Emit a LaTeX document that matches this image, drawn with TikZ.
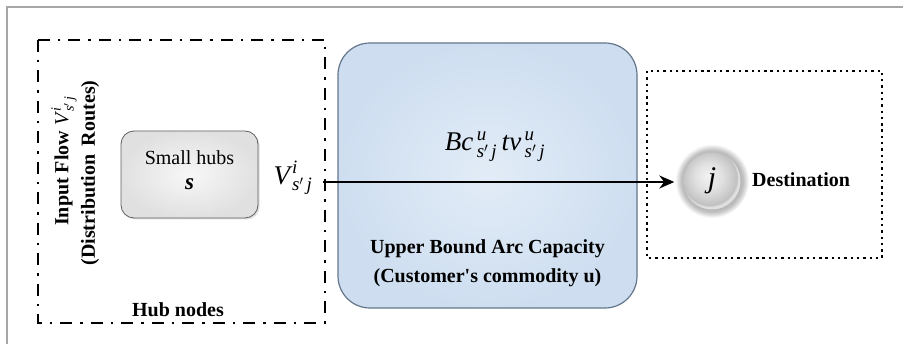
\RequirePackage{fix-cm}
\documentclass[tikz,border=0pt]{standalone}
\usepackage{amsmath}
\usepackage{fontspec}
\setmainfont{Liberation Serif}
\usetikzlibrary{arrows.meta,shadows}
% italic serif letters for the flow and capacity symbols
\newcommand{\vi}[1]{\textit{\mdseries #1}}
% an italic base letter with some room before its scripts
\newcommand{\vb}[1]{{\vi{#1}\kern2pt}}
\newcommand{\vw}[1]{{\vi{#1}\kern3.5pt}}
% halo around the destination node and the node's own body
\pgfdeclareradialshading{halo}{\pgfpoint{0bp}{0bp}}{%
  color(0bp)=(gray!62); color(18.5bp)=(gray!60); color(21bp)=(gray!48); color(25bp)=(white); color(50bp)=(white)}
\pgfdeclareradialshading{sphere}{\pgfpoint{-4bp}{5bp}}{%
  color(0bp)=(gray!10); color(12bp)=(gray!24); color(21bp)=(gray!42); color(24bp)=(gray!50); color(25bp)=(gray!25); color(50bp)=(gray!25)}
\begin{document}
\begin{tikzpicture}[x=1pt,y=-1pt,
  txt/.style={font=\fontsize{20}{24}\selectfont, inner sep=0pt},
  btxt/.style={font=\fontsize{20}{24}\selectfont\bfseries, inner sep=0pt},
  mtxt/.style={font=\fontsize{27}{30}\selectfont, inner sep=0pt},
  hubframe/.style={draw=black, line width=2.4pt, dash pattern=on 12pt off 8pt on 2.5pt off 8pt},
  destframe/.style={draw=black, line width=2.4pt, dash pattern=on 2.4pt off 3.9pt},
  hubbox/.style={draw=gray!75!black, line width=0.8pt, rounded corners=13pt,
     inner color=gray!6, outer color=gray!24, drop shadow={opacity=0.25, shadow xshift=1.5pt, shadow yshift=-1.5pt}},
  capbox/.style={draw={rgb,255:red,100;green,118;blue,140}, line width=1.2pt, rounded corners=32pt,
     inner color={rgb,255:red,226;green,236;blue,247}, outer color={rgb,255:red,206;green,222;blue,240}},
  flow/.style={line width=1.8pt, -{Stealth[length=15pt,width=13pt]}}
]
\useasboundingbox (0,0) rectangle (903,344);
% page frame
\draw[gray!70, line width=1.2pt] (7,344) -- (7,7) -- (903,7);

% hub nodes region
\draw[hubframe] (38,40) rectangle (325,323);
\node[btxt] (hubcap) at (178,310) {Hub nodes};
\node[btxt, rotate=90] (inflow) at (64,161) {Input Flow $\vb{V}^{\vi{i}}_{\vi{s}'\,\vi{j}}$};
\node[btxt, rotate=90] (routes) at (90,173) {(Distribution\, Routes)};
\path[hubbox] (121,131) rectangle (258,218);
\node[txt, align=center] (hub) at (189.5,170) {Small hubs\\[1pt] {\fontsize{23}{24}\selectfont\bfseries\itshape s}};
\coordinate (hubR) at (323,182);
\node[mtxt] (vlab) at (293,178) {$\vb{V}^{\vi{i}}_{\vi{s}'\,\vi{j}}$};

% arc capacity block
\path[capbox] (338,43) rectangle (637,308);
\node[mtxt] (cost) at (495,147) {$\vi{B}\vw{c}^{\vi{u}}_{\vi{s}'\,\vi{j}}\,\vi{t}\vw{v}^{\vi{u}}_{\vi{s}'\,\vi{j}}$};
\node[btxt] (ub1) at (487.5,249) {Upper Bound Arc Capacity};
\node[btxt] (ub2) at (487.5,278) {(Customer\textquotesingle s commodity u)};

% destination region
\draw[destframe] (647,71) rectangle (882,258);
\shade[shading=halo] (712,181) circle (37);
\node[circle, minimum size=57pt, inner sep=0pt, shading=sphere] (dest) at (712,181) {};
\node[font=\fontsize{30}{32}\selectfont\itshape, inner sep=0pt] at (dest) {j};
\node[btxt, anchor=west] (destlab) at (752,180) {Destination};

% flow arc
\draw[flow] (hubR) -- ([xshift=-9pt]dest.west |- hubR);
\end{tikzpicture}
\end{document}
